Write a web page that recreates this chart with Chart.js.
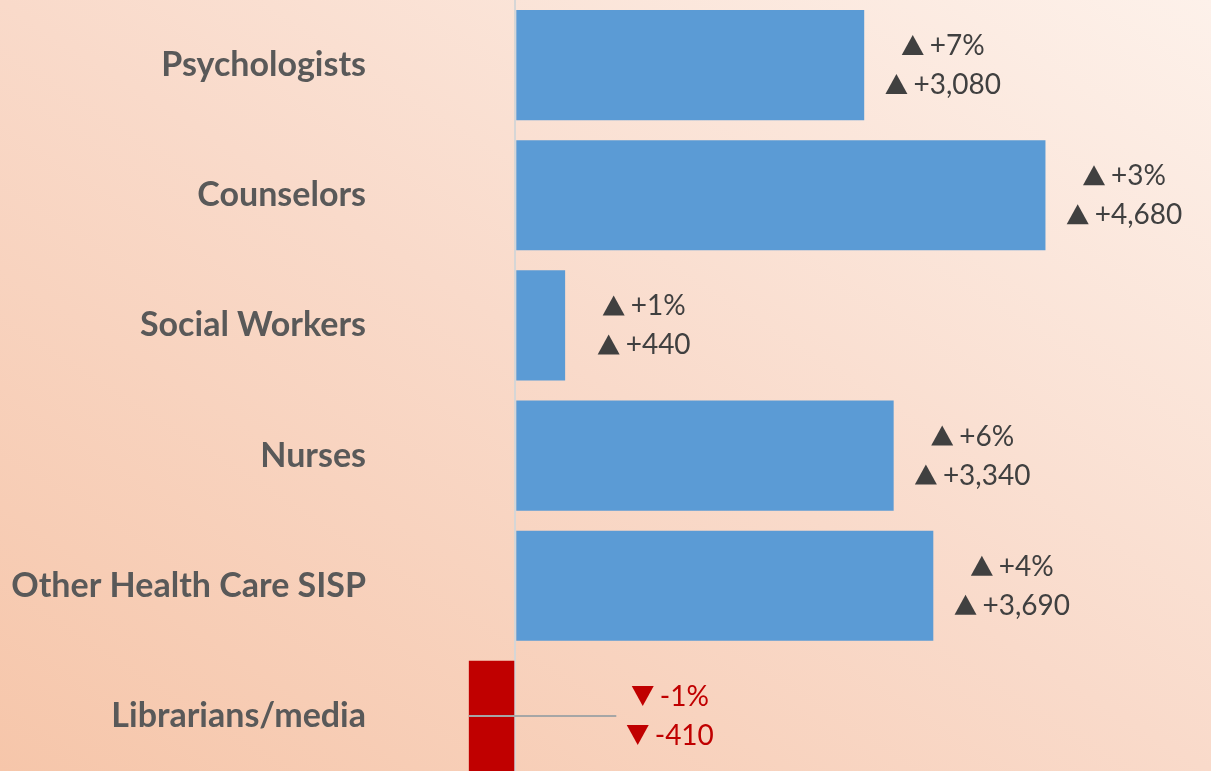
<!DOCTYPE html>
<html>
<head>
<meta charset="utf-8">
<script src="https://cdn.jsdelivr.net/npm/chart.js@4/dist/chart.umd.min.js"></script>
<style>
  html, body { margin: 0; padding: 0; width: 1211px; height: 771px; overflow: hidden; }
  body { background: linear-gradient(to top right, #F6C6AA 0%, #F9DACA 50%, #FDF1EA 100%); }
  #wrap { position: relative; width: 1211px; height: 781px; }
</style>
</head>
<body>
<div id="wrap"><canvas id="c"></canvas></div>
<script>
const categories = ["Psychologists", "Counselors", "Social Workers", "Nurses", "Other Health Care SISP", "Librarians/media"];
const changeValues = [3080, 4680, 440, 3340, 3690, -410];
const changePercents = [7, 3, 1, 6, 4, -1];

const posColor = "#5B9BD5";
const negColor = "#C00000";

function fmtNum(v) {
  const s = Math.abs(v).toLocaleString("en-US");
  return (v >= 0 ? "+" : "-") + s;
}

function drawArrowText(ctx, text, cx, cy, up, color) {
  const triW = 22, triH = 20, gap = 6;
  const w = ctx.measureText(text).width;
  const total = triW + gap + w;
  const x0 = cx - total / 2;
  const base = cy + 10;
  ctx.fillStyle = color;
  ctx.beginPath();
  if (up) {
    ctx.moveTo(x0, base);
    ctx.lineTo(x0 + triW, base);
    ctx.lineTo(x0 + triW / 2, base - triH);
  } else {
    ctx.moveTo(x0, base - triH);
    ctx.lineTo(x0 + triW, base - triH);
    ctx.lineTo(x0 + triW / 2, base);
  }
  ctx.closePath();
  ctx.fill();
  ctx.textAlign = "left";
  ctx.textBaseline = "alphabetic";
  ctx.fillText(text, x0 + triW + gap, base);
}

const labelPlugin = {
  id: "changeLabels",
  afterDatasetsDraw(chart) {
    const ctx = chart.ctx;
    const meta = chart.getDatasetMeta(0);
    const xs = chart.scales.x;
    const zero = xs.getPixelForValue(0);
    ctx.save();
    ctx.font = "28px Lato, 'Open Sans', sans-serif";
    meta.data.forEach((bar, i) => {
      const v = changeValues[i];
      const p = changePercents[i];
      const y = bar.y;
      if (v >= 0) {
        const cx = bar.x + 79;
        drawArrowText(ctx, "+" + p + "%", cx, y - 20, true, "#404040");
        drawArrowText(ctx, fmtNum(v), cx, y + 19, true, "#404040");
      } else {
        const cx = zero + 155;
        ctx.strokeStyle = "#A6A6A6";
        ctx.lineWidth = 2;
        ctx.beginPath();
        ctx.moveTo(bar.x, y);
        ctx.lineTo(zero + 101, y);
        ctx.stroke();
        drawArrowText(ctx, p + "%", cx, y - 20, false, negColor);
        drawArrowText(ctx, fmtNum(v), cx, y + 19, false, negColor);
      }
    });
    ctx.restore();
  }
};

new Chart(document.getElementById("c"), {
  type: "bar",
  data: {
    labels: categories,
    datasets: [{
      data: changeValues,
      backgroundColor: changeValues.map(v => v >= 0 ? posColor : negColor),
      borderWidth: 0,
      barPercentage: 0.846,
      categoryPercentage: 1.0
    }]
  },
  options: {
    indexAxis: "y",
    responsive: true,
    maintainAspectRatio: false,
    animation: false,
    layout: { padding: { top: 0, bottom: 0, left: 0, right: 16 } },
    plugins: { legend: { display: false }, tooltip: { enabled: false } },
    scales: {
      x: {
        min: -1000,
        max: 6000,
        ticks: { display: false, stepSize: 1000 },
        grid: {
          drawTicks: false,
          lineWidth: 2,
          color: (c) => (c.tick && c.tick.value === 0) ? "#D6D6D6" : "rgba(0,0,0,0)"
        },
        border: { display: false },
        afterFit(scale) { scale.height = 0; scale.paddingLeft = 0; scale.paddingRight = 0; }
      },
      y: {
        ticks: {
          color: "#595959",
          font: { family: "Lato, 'Open Sans', sans-serif", size: 34, weight: "bold" },
          padding: 36
        },
        grid: { display: false, drawTicks: false },
        border: { display: false },
        afterFit(scale) {
          scale.width = 402;
          scale.paddingTop = 0;
          scale.paddingBottom = 0;
        }
      }
    }
  },
  plugins: [labelPlugin]
});
</script>
</body>
</html>
